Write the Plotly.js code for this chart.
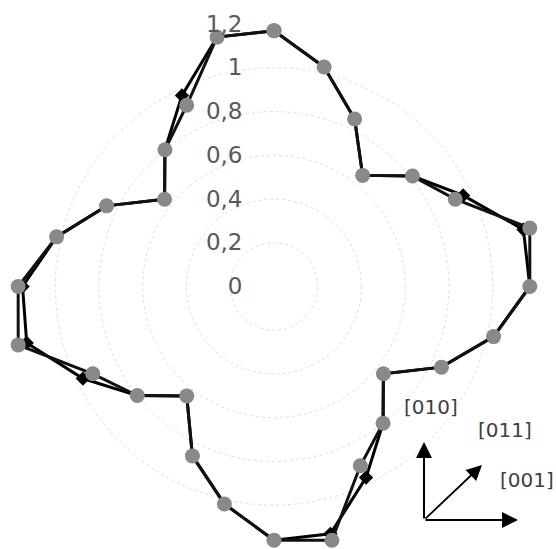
<!DOCTYPE html>
<html><head><meta charset="utf-8">
<script src="https://cdn.plot.ly/plotly-3.0.1.min.js"></script>
<style>html,body{margin:0;padding:0;background:#fff}#chart{width:556px;height:549px}</style>
</head><body><div id="chart"></div>
<script>
// 28 measurement directions, evenly spaced, starting at the top, clockwise
const directions = ['1','2','3','4','5','6','7','8','9','10','11','12','13','14',
  '15','16','17','18','19','20','21','22','23','24','25','26','27','28'];
const seriesCircle = [1.17,1.03,0.85,0.65,0.81,0.92,1.20,1.17,1.03,0.85,0.64,0.80,0.91,1.19,
  1.16,1.02,0.86,0.64,0.80,0.92,1.20,1.17,1.02,0.85,0.64,0.80,0.92,1.17];
const seriesDiamond = [1.17,1.03,0.85,0.65,0.81,0.96,1.17,1.17,1.03,0.85,0.64,0.80,0.97,1.16,
  1.16,1.02,0.86,0.64,0.80,0.97,1.16,1.15,1.02,0.85,0.64,0.80,0.97,1.17];
const radialTickVals = [0,0.2,0.4,0.6,0.8,1,1.2];
const radialTickText = ['0','0,2','0,4','0,6','0,8','1','1,2'];
const arrowLabels = ['[010]','[011]','[001]'];

function closed(a){ return a.concat([a[0]]); }

const W = 556, H = 549;
const px = x => x / W, py = y => 1 - y / H;

const traces = [
  {
    type:'scatterpolar', mode:'lines+markers',
    r: closed(seriesDiamond), theta: closed(directions),
    line:{color:'#000000', width:3},
    marker:{symbol:'diamond', size:11, color:'#000000'},
    showlegend:false, hoverinfo:'skip'
  },
  {
    type:'scatterpolar', mode:'lines+markers',
    r: closed(seriesCircle), theta: closed(directions),
    line:{color:'#111111', width:3},
    marker:{symbol:'circle', size:15, color:'#898989'},
    showlegend:false, hoverinfo:'skip'
  }
];

function lbl(x, y, t){
  return {xref:'paper', yref:'paper', x:px(x), y:py(y), xanchor:'center', yanchor:'middle',
    text:t, showarrow:false, font:{family:'DejaVu Sans', size:20, color:'#404040'}};
}
function arrow(x, y, ax, ay, w, s){
  return {xref:'paper', yref:'paper', x:px(x), y:py(y), ax:ax, ay:ay, text:'', showarrow:true,
    arrowhead:2, arrowsize:s, arrowwidth:w, arrowcolor:'#000', standoff:0};
}
const annotations = [
  arrow(424, 442, 0, 78, 2, 1.6),
  arrow(518, 520, -94, 0, 2, 1.6),
  arrow(482, 465, -58, 55, 1.8, 1.7),
  lbl(431, 407, arrowLabels[0]),
  lbl(505, 430, arrowLabels[1]),
  lbl(527, 480, arrowLabels[2])
];

const layout = {
  width:W, height:H,
  margin:{l:0, r:0, t:0, b:0},
  paper_bgcolor:'#ffffff',
  separators:',.',
  showlegend:false,
  polar:{
    domain:{x:[11/W, 537/W], y:[0, 525/H]},
    bgcolor:'#ffffff',
    radialaxis:{
      range:[0,1.2005], angle:90, side:'counterclockwise',
      tickvals:radialTickVals, ticktext:radialTickText,
      tickangle:90,
      ticks:'outside', ticklen:23, tickcolor:'rgba(0,0,0,0)',
      tickfont:{family:'DejaVu Sans', size:23, color:'#595959'},
      showline:false,
      gridcolor:'#dedede', griddash:'dot', gridwidth:1
    },
    angularaxis:{
      type:'category', categoryarray:directions,
      rotation:90, direction:'clockwise',
      showticklabels:false, ticks:'', showgrid:false, showline:false
    }
  },
  annotations:annotations
};

Plotly.newPlot('chart', traces, layout, {staticPlot:true, displayModeBar:false});
</script>
</body></html>
